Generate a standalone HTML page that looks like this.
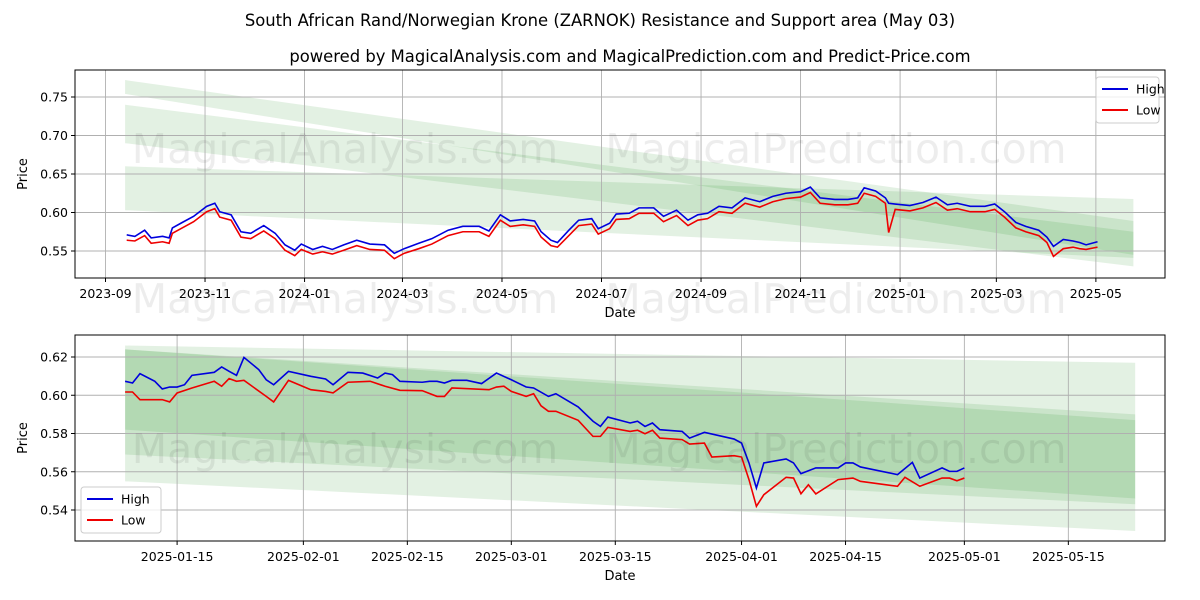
<!DOCTYPE html>
<html><head><meta charset="utf-8"><style>
body{margin:0;background:#fff;}
svg{display:block;font-family:"DejaVu Sans","Liberation Sans",sans-serif;}
</style></head><body>
<svg id="chart" width="1200" height="600" xmlns="http://www.w3.org/2000/svg">
<rect width="1200" height="600" fill="#fff"/>
<text x="600" y="26" text-anchor="middle" font-size="16.4">South African Rand/Norwegian Krone (ZARNOK) Resistance and Support area (May 03)</text>
<text x="630" y="62" text-anchor="middle" font-size="16.4">powered by MagicalAnalysis.com and MagicalPrediction.com and Predict-Price.com</text>
<g id="top"></g>
<g id="bot"></g>
</svg>
<script>
// ---- top panel data (days since 2023-09-01) ----
const topDays=[13,18,24,28,35,39,41,47,54,62,67,70,77,83,89,97,104,110,116,120,127,133,139,146,154,162,171,177,183,192,200,210,219,229,235,242,248,256,263,267,273,277,284,290,298,302,309,313,321,327,336,342,350,357,363,369,376,384,392,401,409,417,426,432,438,447,455,461,465,472,478,480,484,493,501,509,516,522,530,539,545,551,558,564,572,577,581,587,593,597,601,608];
const topHigh=[.571,.569,.577,.567,.569,.567,.580,.587,.595,.608,.612,.601,.597,.575,.573,.583,.573,.558,.551,.559,.552,.556,.552,.558,.564,.559,.558,.547,.553,.560,.566,.577,.582,.582,.576,.597,.589,.591,.589,.575,.564,.561,.577,.590,.592,.579,.586,.598,.599,.606,.606,.595,.603,.590,.597,.599,.608,.606,.619,.614,.621,.625,.627,.633,.619,.617,.617,.619,.632,.628,.619,.612,.611,.609,.613,.620,.610,.612,.608,.608,.611,.601,.587,.582,.577,.568,.556,.565,.563,.561,.558,.562];
const topLow=[.564,.563,.570,.560,.562,.560,.573,.580,.588,.601,.605,.594,.590,.568,.566,.576,.566,.551,.544,.552,.546,.549,.546,.551,.557,.552,.551,.540,.547,.553,.559,.570,.575,.575,.569,.590,.582,.584,.582,.568,.557,.555,.570,.583,.585,.572,.579,.591,.592,.599,.599,.588,.596,.583,.590,.592,.601,.599,.612,.607,.614,.618,.620,.626,.612,.610,.610,.612,.625,.621,.612,.574,.604,.602,.606,.613,.603,.605,.601,.601,.604,.594,.580,.575,.570,.561,.543,.553,.555,.553,.552,.555];
const topBandDays=[12,630];
const topBandTop=[[.772,.589],[.740,.575],[.660,.6175]];
const topBandBot=[[.754,.545],[.690,.530],[.603,.541]];
const topYTicks=[0.55,0.60,0.65,0.70,0.75];
const topXTickDays=[0,61,122,182,243,304,365,426,487,546,607];
const topXTickLabels=["2023-09","2023-11","2024-01","2024-03","2024-05","2024-07","2024-09","2024-11","2025-01","2025-03","2025-05"];
// ---- bottom panel data (days since 2025-01-01) ----
const botHighDays=[7,8,9,11,12,13,14,15,16,19,20,21,22,23,25,26,27,29,32,34,35,37,39,41,42,43,44,47,48,49,50,51,53,55,57,59,61,62,64,65,68,70,71,72,75,76,77,78,79,82,83,85,89,90,91,92,93,96,97,98,100,101,103,104,105,106,111,113,114,117,118,119,120];
const botHigh=[.6073,.6064,.6113,.6073,.6033,.6043,.6043,.6055,.6104,.612,.6148,.6125,.6104,.6198,.6134,.6081,.6055,.6125,.6099,.6085,.6055,.612,.6116,.609,.6116,.6108,.6073,.6068,.6073,.6073,.6064,.6078,.6078,.6061,.6116,.6081,.6043,.6038,.5994,.6008,.5939,.5864,.5837,.5886,.5855,.5864,.5837,.5855,.582,.5811,.5776,.5806,.5771,.575,.5646,.5515,.5646,.5667,.5646,.559,.562,.562,.562,.5646,.5646,.5625,.5585,.5649,.5567,.562,.5602,.5602,.562];
const botLowDays=[7,8,9,12,13,14,16,19,20,21,22,23,26,27,29,32,34,35,37,40,42,44,47,49,50,51,56,57,58,59,61,62,63,64,65,68,70,71,72,75,76,77,78,79,82,83,85,86,89,90,91,92,93,96,97,98,99,100,103,105,106,111,112,114,117,118,119,120];
const botLow=[.6017,.6017,.5977,.5977,.5965,.6012,.6038,.6073,.6047,.6087,.6073,.6078,.5994,.5965,.6078,.6029,.602,.6012,.6068,.6073,.6047,.6026,.6024,.5994,.5994,.6038,.6029,.6043,.6047,.602,.5994,.6008,.5945,.5916,.5916,.5869,.5785,.5785,.5832,.5811,.5817,.5799,.5817,.5776,.5768,.5745,.575,.5677,.5684,.5677,.5559,.5419,.548,.5571,.5567,.5485,.5532,.5484,.5559,.5567,.555,.5524,.5571,.5524,.5567,.5567,.5553,.5567];
const botBandDays=[7,143];
const botBandTop=[[.626,.617],[.624,.590],[.624,.587]];
const botBandBot=[[.555,.529],[.569,.543],[.582,.546]];
const botYTicks=[0.54,0.56,0.58,0.60,0.62];
const botXTickDays=[14,31,45,59,73,90,104,120,134];
const botXTickLabels=["2025-01-15","2025-02-01","2025-02-15","2025-03-01","2025-03-15","2025-04-01","2025-04-15","2025-05-01","2025-05-15"];

const NS="http://www.w3.org/2000/svg";
function mk(parent,tag,attrs,text){const e=document.createElementNS(NS,tag);for(const k in attrs)e.setAttribute(k,attrs[k]);if(text!==undefined)e.textContent=text;parent.appendChild(e);return e;}

function panel(g,box,xf,yf,yTicks,yFmt,xTickDays,xTickLabels,bandDays,bandTop,bandBot,hd,hv,ld,lv,legendPos,wmRows){
  mk(g,'rect',{x:box.x,y:box.y,width:box.w,height:box.h,fill:'#fff'});
  // bands
  for(let i=0;i<bandTop.length;i++){
    const x0=xf(bandDays[0]),x1=xf(bandDays[1]);
    const p=mk(g,'polygon',{points:`${x0},${yf(bandTop[i][0])} ${x1},${yf(bandTop[i][1])} ${x1},${yf(bandBot[i][1])} ${x0},${yf(bandBot[i][0])}`,fill:'rgba(0,128,0,0.11)'});
    
    
  }
  // grid
  yTicks.forEach(v=>{const y=yf(v);
    mk(g,'line',{x1:box.x,x2:box.x+box.w,y1:y,y2:y,stroke:'#b0b0b0','stroke-width':0.9});
    mk(g,'line',{x1:box.x-4,x2:box.x,y1:y,y2:y,stroke:'#000'});
    const t=mk(g,'text',{x:box.x-7,y:y+4.5,'text-anchor':'end','font-size':12.5},yFmt(v));
    
    
  });
  xTickDays.forEach((d,i)=>{const x=xf(d);
    mk(g,'line',{x1:x,x2:x,y1:box.y,y2:box.y+box.h,stroke:'#b0b0b0','stroke-width':0.9});
    mk(g,'line',{x1:x,x2:x,y1:box.y+box.h,y2:box.y+box.h+4,stroke:'#000'});
    const t=mk(g,'text',{x:x,y:box.y+box.h+20,'text-anchor':'middle','font-size':12.5},xTickLabels[i]);
    
    
  });
  const hp=mk(g,'polyline',{points:hd.map((d,i)=>xf(d)+','+yf(hv[i])).join(' '),fill:'none',stroke:'#0000dd','stroke-width':1.6});
  
  
  const lp=mk(g,'polyline',{points:ld.map((d,i)=>xf(d)+','+yf(lv[i])).join(' '),fill:'none',stroke:'#ee0000','stroke-width':1.6});
  
  
  mk(g,'rect',{x:box.x,y:box.y,width:box.w,height:box.h,fill:'none',stroke:'#000','stroke-width':1});
  // watermarks
  wmRows.forEach(wy=>{
    const wm1=mk(g,'text',{x:345,y:wy,'text-anchor':'middle','font-size':41,fill:'rgba(0,0,0,0.07)'},'MagicalAnalysis.com');
    
    
    const wm2=mk(g,'text',{x:836,y:wy,'text-anchor':'middle','font-size':41,fill:'rgba(0,0,0,0.07)'},'MagicalPrediction.com');
    
    
  });
  const xl=mk(g,'text',{x:box.x+box.w/2,y:box.y+box.h+39,'text-anchor':'middle','font-size':13},'Date');
  
  
  const cy=box.y+box.h/2;
  const yl=mk(g,'text',{x:27,y:cy,'text-anchor':'middle','font-size':13,transform:`rotate(-90 27 ${cy})`},'Price');
  
  
  // legend
  const lg=mk(g,'g',{});
  
  
  mk(lg,'rect',{x:legendPos.x,y:legendPos.y,width:legendPos.w,height:46,rx:3,fill:'rgba(255,255,255,0.8)',stroke:'#ccc'});
  [['High','#0000dd'],['Low','#ee0000']].forEach((e,i)=>{
    const yy=legendPos.y+12+i*21;
    const ent=mk(lg,'g',{});
    
    
    mk(ent,'line',{x1:legendPos.x+6,x2:legendPos.x+32,y1:yy,y2:yy,stroke:e[1],'stroke-width':2});
    mk(ent,'text',{x:legendPos.x+40,y:yy+4.5,'font-size':12.5},e[0]);
  });
}
const topBox={x:75,y:70,w:1090,h:208};
panel(document.getElementById('top'),topBox,d=>105.5+d*1.6316,v=>251-(v-0.55)*770,topYTicks,v=>v.toFixed(2),topXTickDays,topXTickLabels,topBandDays,topBandTop,topBandBot,topDays,topHigh,topDays,topLow,{x:1096,y:77,w:63},[163,313]);
const botBox={x:75,y:335,w:1090,h:206};
panel(document.getElementById('bot'),botBox,d=>177.1+(d-14)*7.427,v=>510-(v-0.54)*1912.5,botYTicks,v=>v.toFixed(2),botXTickDays,botXTickLabels,botBandDays,botBandTop,botBandBot,botHighDays,botHigh,botLowDays,botLow,{x:81,y:487,w:80},[463]);
</script>
</body></html>
